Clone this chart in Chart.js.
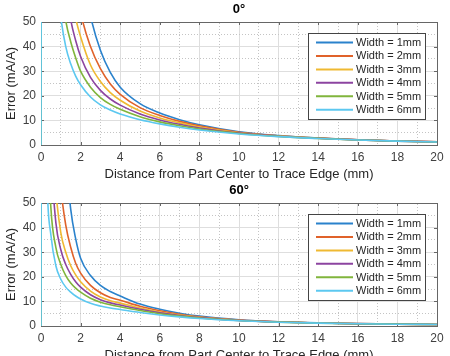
<!DOCTYPE html>
<html><head><meta charset="utf-8">
<script src="https://cdn.jsdelivr.net/npm/chart.js@4.4.1/dist/chart.umd.min.js"></script>
<style>
html,body{margin:0;padding:0;background:#fff;overflow:hidden;width:450px;height:356px;}
canvas{position:absolute;left:0;}
#c0{top:0}
#c60{top:181px}
</style></head><body>
<canvas id="c0" width="450" height="185"></canvas>
<canvas id="c60" width="450" height="185"></canvas>
<script>
// ---- data ----
const distance = [0, 0.05, 0.25, 0.5, 0.75, 1, 1.25, 1.5, 1.75, 2, 2.5, 3, 3.5, 4, 5, 6, 7, 8, 10, 12, 14, 16, 18, 20];
const seriesLabels = ['Width = 1mm', 'Width = 2mm', 'Width = 3mm', 'Width = 4mm', 'Width = 5mm', 'Width = 6mm'];
const seriesColors = ['#2a82cc', '#e0622a', '#efb932', '#8c44a0', '#80b53c', '#5cc8f0'];
const xTickLabels = [0, 2, 4, 6, 8, 10, 12, 14, 16, 18, 20];
const yTickLabels = [0, 10, 20, 30, 40, 50];
const chartTitles = ['0°', '60°'];

// Angle 0°
const err0_w1 = [0, 400, 380, 340, 290, 200, 150, 115, 92, 76, 52.5, 38.5, 29.5, 23.5, 16.8, 13.0, 10.3, 8.2, 5.4, 3.85, 2.85, 2.15, 1.65, 1.3];
const err0_w2 = [0, 400, 330, 260, 190, 140, 108, 85, 67, 54, 40, 31, 24.8, 20.6, 15.2, 12.0, 9.6, 7.8, 5.2, 3.75, 2.8, 2.12, 1.63, 1.28];
const err0_w3 = [0, 400, 290, 200, 140, 105, 80, 62, 51.5, 44, 32.5, 25.8, 21.3, 18.2, 13.8, 11.0, 9.0, 7.3, 5.0, 3.65, 2.76, 2.09, 1.61, 1.27];
const err0_w4 = [0, 400, 260, 170, 118, 90, 66, 51, 42.5, 36, 27.5, 22.2, 18.7, 16.2, 12.6, 10.2, 8.4, 6.9, 4.85, 3.58, 2.72, 2.07, 1.59, 1.25];
const err0_w5 = [0, 400, 230, 140, 92, 66, 50.5, 42, 35.5, 30, 23.5, 19.3, 16.5, 14.5, 11.5, 9.4, 7.8, 6.5, 4.7, 3.5, 2.68, 2.05, 1.58, 1.24];
const err0_w6 = [0, 400, 200, 115, 72, 52, 40, 33, 28, 24.5, 19.5, 16.3, 14.2, 12.6, 10.3, 8.6, 7.2, 6.1, 4.5, 3.4, 2.64, 2.02, 1.56, 1.22];

// Angle 60°
const err60_w1 = [0, 400, 300, 220, 150, 105, 70, 47.5, 35.5, 27.5, 20.5, 16.5, 14, 12.2, 8.9, 6.8, 5.2, 4.0, 2.5, 1.7, 1.25, 0.97, 0.78, 0.64];
const err60_w2 = [0, 400, 220, 130, 80, 56, 41, 32, 25.5, 21.5, 16.5, 13.5, 11.6, 10.5, 8.0, 6.2, 4.8, 3.75, 2.4, 1.66, 1.22, 0.95, 0.77, 0.63];
const err60_w3 = [0, 400, 160, 90, 55, 38, 30, 24.5, 20.8, 18, 14.2, 11.8, 10.3, 9.3, 7.3, 5.7, 4.5, 3.55, 2.32, 1.63, 1.2, 0.94, 0.76, 0.63];
const err60_w4 = [0, 400, 130, 70, 42, 31, 25, 21, 18, 15.8, 12.7, 10.7, 9.4, 8.5, 6.8, 5.35, 4.25, 3.4, 2.27, 1.6, 1.19, 0.93, 0.75, 0.62];
const err60_w5 = [0, 400, 110, 48, 32, 25, 20.5, 17.5, 15.4, 13.8, 11.3, 9.7, 8.6, 7.8, 6.3, 5.0, 4.0, 3.25, 2.22, 1.58, 1.18, 0.92, 0.75, 0.62];
const err60_w6 = [0, 400, 85, 37, 24.5, 19, 15.8, 13.8, 12.2, 11.0, 9.2, 8.1, 7.3, 6.7, 5.5, 4.5, 3.7, 3.05, 2.15, 1.55, 1.16, 0.91, 0.74, 0.61];

// ---- drawing ----
const FONT = '"Liberation Sans", Arial, Helvetica, sans-serif';
const AXIS_COLOR = '#666666';
const MAJOR_GRID = '#dedede';
const MINOR_GRID = '#c4c4c4';

const matlabTicks = {
  id: 'matlabTicks',
  beforeDatasetsDraw(chart) {
    const {ctx, chartArea: a, scales} = chart;
    const x = scales.x, y = scales.y;
    ctx.save();
    ctx.strokeStyle = AXIS_COLOR;
    ctx.lineWidth = 1;
    ctx.beginPath();
    x.ticks.forEach(t => {
      const px = Math.round(x.getPixelForValue(t.value)) + 0.5;
      ctx.moveTo(px, a.bottom); ctx.lineTo(px, a.bottom - 3);
      ctx.moveTo(px, a.top); ctx.lineTo(px, a.top + 3);
    });
    y.ticks.forEach(t => {
      const py = Math.round(y.getPixelForValue(t.value)) + 0.5;
      ctx.moveTo(a.left, py); ctx.lineTo(a.left + 3, py);
      ctx.moveTo(a.right, py); ctx.lineTo(a.right - 3, py);
    });
    ctx.stroke();
    ctx.restore();
  }
};

const boxLegend = {
  id: 'boxLegend',
  afterDraw(chart) {
    const {ctx, chartArea: a} = chart;
    const w = 117, h = 86;
    const left = Math.round(a.right - 12 - w), top = Math.round(a.top + 11);
    ctx.save();
    ctx.fillStyle = '#ffffff';
    ctx.fillRect(left, top, w, h);
    ctx.strokeStyle = '#444444';
    ctx.lineWidth = 1;
    ctx.strokeRect(left + 0.5, top + 0.5, w, h);
    ctx.font = '11px ' + FONT;
    ctx.textBaseline = 'middle';
    ctx.textAlign = 'left';
    chart.data.datasets.forEach((ds, i) => {
      const cy = top + 9.5 + i * 13.45;
      ctx.strokeStyle = ds.borderColor;
      ctx.lineWidth = 2;
      ctx.beginPath();
      ctx.moveTo(left + 8, cy); ctx.lineTo(left + 45, cy);
      ctx.stroke();
      ctx.fillStyle = '#262626';
      ctx.fillText(ds.label, left + 48, cy + 0.5);
    });
    ctx.restore();
  }
};

function makeChart(id, title, seriesList) {
  const datasets = seriesList.map((vals, i) => ({
    label: seriesLabels[i],
    data: distance.map((d, k) => ({x: d, y: vals[k]})),
    borderColor: seriesColors[i],
    backgroundColor: seriesColors[i],
    borderWidth: 1.6,
    pointRadius: 0,
    fill: false,
    cubicInterpolationMode: 'monotone',
    order: seriesList.length - 1 - i
  }));
  return new Chart(document.getElementById(id), {
    type: 'line',
    data: {datasets},
    plugins: [matlabTicks, boxLegend],
    options: {
      responsive: false,
      animation: false,
      layout: {padding: {top: 0, right: 13, bottom: 0, left: 0}},
      plugins: {
        legend: {display: false},
        tooltip: {enabled: false},
        title: {
          display: true, text: title, fullSize: false,
          color: '#000000',
          font: {family: FONT, size: 13, weight: 'bold'},
          padding: {top: 2, bottom: 4.4}
        }
      },
      scales: {
        x: {
          type: 'linear', position: 'bottom', min: 0, max: 20,
          afterBuildTicks: s => { s.ticks = xTickLabels.map(v => ({value: v})); },
          ticks: {color: '#404040', font: {family: FONT, size: 12}, padding: 5, maxRotation: 0, autoSkip: false},
          grid: {color: MAJOR_GRID, lineWidth: 1, drawTicks: false},
          border: {color: AXIS_COLOR, width: 1},
          title: {display: true, text: 'Distance from Part Center to Trace Edge (mm)', color: '#262626',
                  font: {family: FONT, size: 13}, padding: {top: 0, bottom: 3}},
          afterFit: s => { s.height = 40; }
        },
        x2: {
          type: 'linear', position: 'top', min: 0, max: 20,
          ticks: {display: false, stepSize: 1},
          grid: {color: c => (c.tick && Math.round(c.tick.value) % 2 !== 0) ? MINOR_GRID : 'rgba(0,0,0,0)', lineWidth: 1, drawTicks: false},
          border: {color: AXIS_COLOR, width: 1, dash: [1, 2]},
          afterFit: s => { s.height = 0; }
        },
        y: {
          type: 'linear', position: 'left', min: 0, max: 50,
          afterBuildTicks: s => { s.ticks = yTickLabels.map(v => ({value: v})); },
          ticks: {color: '#404040', font: {family: FONT, size: 12}, padding: 5},
          grid: {color: MAJOR_GRID, lineWidth: 1, drawTicks: false},
          border: {color: AXIS_COLOR, width: 1},
          title: {display: true, text: 'Error (mA/A)', color: '#262626',
                  font: {family: FONT, size: 13}, padding: {top: 4, bottom: 0}},
          afterFit: s => { s.width = 41; }
        },
        y2: {
          type: 'linear', position: 'right', min: 0, max: 50,
          ticks: {display: false, stepSize: 5},
          grid: {color: c => (c.tick && Math.round(c.tick.value) % 10 !== 0) ? MINOR_GRID : 'rgba(0,0,0,0)', lineWidth: 1, drawTicks: false},
          border: {color: AXIS_COLOR, width: 1, dash: [1, 2]},
          afterFit: s => { s.width = 0; }
        }
      }
    }
  });
}

makeChart('c0', chartTitles[0], [err0_w1, err0_w2, err0_w3, err0_w4, err0_w5, err0_w6]);
makeChart('c60', chartTitles[1], [err60_w1, err60_w2, err60_w3, err60_w4, err60_w5, err60_w6]);
</script>
</body></html>
